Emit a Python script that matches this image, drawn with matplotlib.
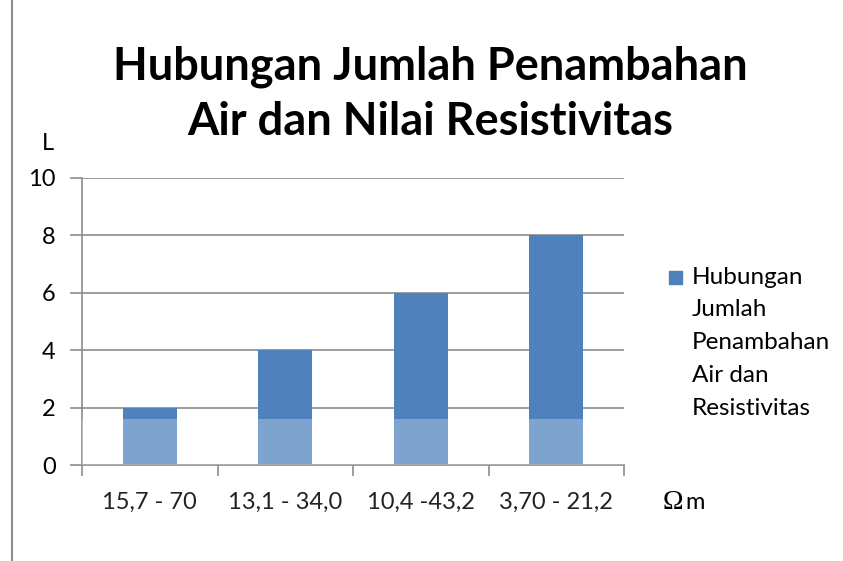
import matplotlib
matplotlib.use("Agg")
import matplotlib.pyplot as plt
from matplotlib.lines import Line2D
from matplotlib.patches import Rectangle

# data
kategori = ["15,7 - 70", "13,1 - 34,0", "10,4 -43,2", "3,70 - 21,2"]
nilai = [2, 4, 6, 8]
label_seri = ["Hubungan", "Jumlah", "Penambahan", "Air dan", "Resistivitas"]
judul = "Hubungan Jumlah Penambahan\nAir dan Nilai Resistivitas"
yticks = [0, 2, 4, 6, 8, 10]

plt.rcParams['font.family'] = ['Lato', 'DejaVu Sans']
biru = "#4F81BD"

fig = plt.figure(figsize=(8.43, 5.61), dpi=100)
ax = fig.add_axes([0.0973, 0.171, 0.643, 0.512])

x = list(range(len(kategori)))
bars = ax.bar(x, nilai, width=0.4, color=biru, zorder=2)
# faded lower band (scan watermark look)
ax.axhspan(0, 1.6, color="white", alpha=0.27, zorder=3, lw=0)

ax.set_xlim(-0.5, 3.5)
ax.set_ylim(0, 10)
ax.set_yticks(yticks)
ax.set_xticks(x)
ax.set_xticklabels(kategori)
ax.set_xticks([-0.5, 0.5, 1.5, 2.5, 3.5], minor=True)
ax.yaxis.grid(True, color="#8c8c8c", lw=1.2, zorder=1)
ax.set_axisbelow(True)

for s in ["top", "right"]:
    ax.spines[s].set_visible(False)
for s in ["left", "bottom"]:
    ax.spines[s].set_color("#8c8c8c")
    ax.spines[s].set_linewidth(1.2)

ax.tick_params(axis="y", length=9, width=1.2, color="#8c8c8c", labelsize=17, pad=10)
ax.tick_params(axis="x", which="major", length=0, labelsize=17, pad=19, labelcolor="#222222")
ax.tick_params(axis="x", which="minor", length=8, width=1.2, color="#8c8c8c")

fig.text(0.51, 0.832, judul, ha="center", va="center", fontsize=32.5,
         fontweight="bold", linespacing=1.4)
fig.text(0.057, 0.745, "L", ha="center", va="center", fontsize=17)
fig.text(0.786, 0.105, "Ω", ha="left", va="center", fontsize=20,
         family=["Liberation Serif"])
fig.text(0.8135, 0.105, "m", ha="left", va="center", fontsize=17)

# legend: square + wrapped series name
fig.add_artist(Rectangle((0.7935, 0.494), 0.0155, 0.0235, color=biru,
                         transform=fig.transFigure))
for i, t in enumerate(label_seri):
    fig.text(0.821, 0.506 - i * 0.0585, t, ha="left", va="center", fontsize=17.5)

# left border of chart area
fig.add_artist(Line2D([0.0145, 0.0145], [0, 1], color="#8c8c8c", lw=1.5))

fig.savefig("out.png", dpi=100)
